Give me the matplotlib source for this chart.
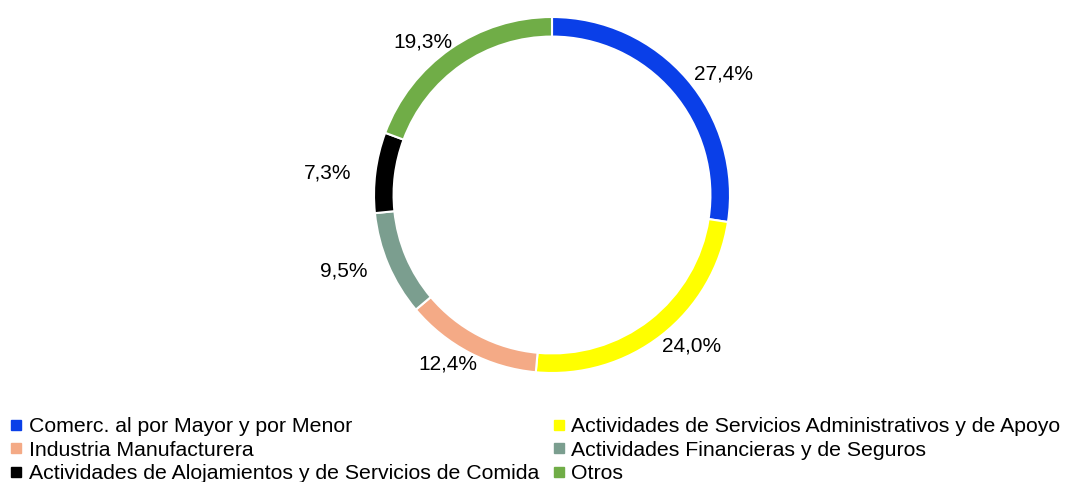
import matplotlib
matplotlib.use("Agg")
import matplotlib.pyplot as plt
from matplotlib.lines import Line2D
import numpy as np

plt.rcParams['font.family'] = ['Liberation Sans', 'DejaVu Sans']

categories = ["Comerc. al por Mayor y por Menor",
              "Actividades de Servicios Administrativos y de Apoyo",
              "Industria Manufacturera",
              "Actividades Financieras y de Seguros",
              "Actividades de Alojamientos y de Servicios de Comida",
              "Otros"]
values = [27.4, 24.0, 12.4, 9.5, 7.3, 19.3]
labels = ["27,4%", "24,0%", "12,4%", "9,5%", "7,3%", "19,3%"]
colors = ["#0A3FE8", "#FFFF00", "#F4AA86", "#7B9E8F", "#000000", "#70AD47"]

W, H = 1067, 482
fig = plt.figure(figsize=(W/100, H/100), dpi=100)
cx, cy, r = 552, 195, 178
ax = fig.add_axes([(cx - r)/W, 1 - (cy + r)/H, 2*r/W, 2*r/H])
wedges, _ = ax.pie(values, colors=colors, startangle=90,
                   counterclock=False, radius=1.0,
                   wedgeprops=dict(width=0.11, edgecolor="white", linewidth=1.5))
# data labels placed outside the ring, on an ellipse around the mid-angle of each wedge
rx, ry = 1.27, 1.06
for w, lab in zip(wedges, labels):
    ang = np.deg2rad((w.theta1 + w.theta2) / 2)
    ax.text(rx * np.cos(ang), ry * np.sin(ang), lab, ha="center",
            va="center_baseline", fontsize=15, color="#000000")
ax.set_aspect("equal")
ax.set_xlim(-1, 1)
ax.set_ylim(-1, 1)
ax.axis("off")

order = [0, 2, 4, 1, 3, 5]
handles = [Line2D([], [], marker="s", linestyle="none", markersize=7,
                  markerfacecolor=colors[i], markeredgecolor=colors[i]) for i in order]
fig.legend(handles, [categories[i] for i in order], ncol=2, loc="upper left",
           bbox_to_anchor=(11/W, 1 - 417/H), frameon=False, fontsize=15.3,
           handlelength=0.5, handletextpad=0.35, columnspacing=0.66,
           labelspacing=0.22, borderaxespad=0, borderpad=0)

fig.savefig("out.png", dpi=100)
